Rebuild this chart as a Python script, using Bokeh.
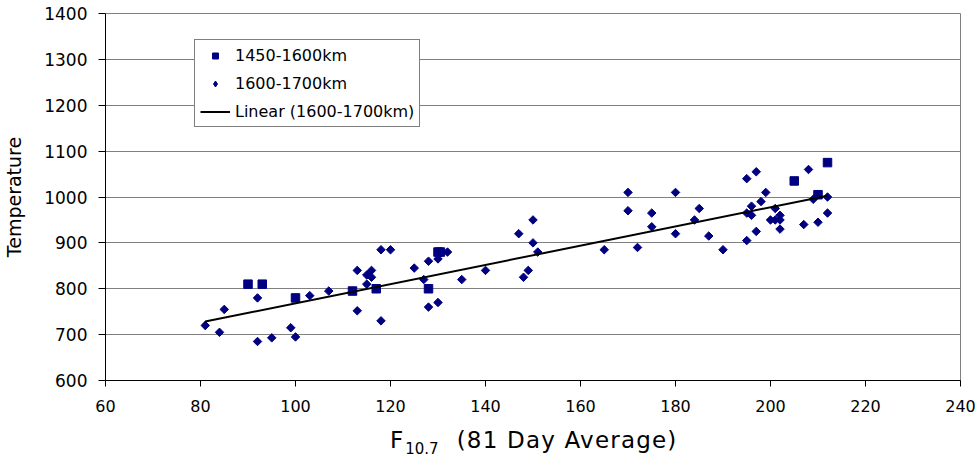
import numpy as np
from bokeh.plotting import figure
from bokeh.layouts import column
from bokeh.models import Range1d, FixedTicker, Legend, LegendItem, Div
from bokeh.embed import file_html
from bokeh.resources import INLINE

# 1450-1600km (squares)
sq_x = [90, 93, 100, 112, 117, 128, 130, 130.5, 205, 210, 212]
sq_y = [810, 810, 780, 795, 800, 800, 880, 880, 1035, 1005, 1075]

# 1600-1700km (diamonds)
di_x = [81, 84, 85, 92, 92, 95, 99, 100, 103, 107, 113, 113, 115, 115, 116,
        116, 118, 118, 120, 125, 127, 128, 128, 130, 130, 132, 135, 140, 147, 148,
        149, 150, 150, 151, 165, 170, 170, 172, 175, 175, 180, 180, 184, 185, 187,
        190, 195, 195, 195, 196, 196, 197, 197, 198, 199, 200, 201, 201, 202, 202,
        202, 207, 208, 209, 210, 212, 212]
di_y = [720, 705, 755, 780, 685, 693, 715, 695, 785, 795, 840, 752, 830, 810, 840,
        825, 730, 885, 885, 845, 820, 760, 860, 865, 770, 880, 820, 840, 920, 825,
        840, 950, 900, 880, 885, 1010, 970, 890, 965, 935, 1010, 920, 950, 975, 915,
        885, 1040, 965, 905, 980, 960, 1055, 925, 990, 1010, 950, 975, 950, 960, 950,
        930, 940, 1060, 995, 945, 1000, 965]

x_ticks = [60, 80, 100, 120, 140, 160, 180, 200, 220, 240]
y_ticks = [600, 700, 800, 900, 1000, 1100, 1200, 1300, 1400]

labels = ["1450-1600km", "1600-1700km", "Linear (1600-1700km)"]
x_title_parts = ["F", "10.7", "(81 Day Average)"]

FONT = "DejaVu Sans"
NAVY = "#000080"

p = figure(width=979, height=420, output_backend="svg", toolbar_location=None,
           x_range=Range1d(60, 240), y_range=Range1d(600, 1400),
           min_border_left=104, min_border_right=19, min_border_top=13,
           min_border_bottom=40)
p.background_fill_color = "white"
p.border_fill_color = "white"
p.outline_line_color = "#808080"
p.outline_line_width = 1

p.xgrid.grid_line_color = None
p.ygrid.grid_line_color = "#808080"
p.ygrid.grid_line_width = 1

p.xaxis.ticker = FixedTicker(ticks=x_ticks)
p.yaxis.ticker = FixedTicker(ticks=y_ticks)
for ax in (p.xaxis, p.yaxis):
    ax.axis_line_color = "black"
    ax.major_tick_line_color = "black"
    ax.minor_tick_line_color = None
    ax.major_tick_in = 0
    ax.major_label_text_font = FONT
    ax.major_label_text_color = "black"
    ax.axis_label_text_font = FONT
    ax.axis_label_text_font_style = "normal"
    ax.axis_label_text_color = "black"
p.xaxis.major_tick_out = 6
p.yaxis.major_tick_out = 7
p.xaxis.major_label_text_font_size = "16px"
p.yaxis.major_label_text_font_size = "17px"
p.xaxis.major_label_standoff = 13
p.yaxis.major_label_standoff = 11
p.yaxis.axis_label = "Temperature"
p.yaxis.axis_label_text_font_size = "19px"
p.yaxis.axis_label_standoff = 16

# legend stand-in for the diamond marker (legend ignores marker angle);
# drawn under the real marker of the first point so it stays hidden
r_di_leg = p.scatter(di_x[:1], di_y[:1], marker="diamond", size=8,
                     fill_color=NAVY, line_color=NAVY)
r_sq = p.scatter(sq_x, sq_y, marker="square", size=8.5, fill_color=NAVY,
                 line_color=NAVY)
r_di = p.scatter(di_x, di_y, marker="square", angle=np.pi / 4, size=6,
                 fill_color=NAVY, line_color=NAVY)

# linear trend line of the 1600-1700km series
coef = np.polyfit(np.array(di_x, float), np.array(di_y, float), 1)
fx = np.array([min(di_x), max(di_x)], float)
fy = np.polyval(coef, fx)
r_fit = p.line(fx, fy, line_color="black", line_width=2)

legend = Legend(items=[LegendItem(label=labels[0], renderers=[r_sq]),
                       LegendItem(label=labels[1], renderers=[r_di_leg]),
                       LegendItem(label=labels[2], renderers=[r_fit])],
                location=(89, 253))
legend.label_text_font = FONT
legend.label_text_font_size = "16px"
legend.label_text_color = "black"
legend.border_line_color = "black"
legend.border_line_width = 1
legend.background_fill_color = "white"
legend.background_fill_alpha = 1
legend.padding = 5
legend.spacing = 8
legend.margin = 0
legend.glyph_width = 30
legend.glyph_height = 15
legend.label_height = 20
legend.label_standoff = 5
p.add_layout(legend, "center")

# x-axis title with a real subscript, as HTML text below the plot
title_html = (
    '<div style="margin:9px 0 0 390px; padding:0; font-family:\'DejaVu Sans\';'
    ' font-size:23px; line-height:1; color:black; white-space:nowrap;">'
    f'{x_title_parts[0]}'
    '<span style="font-size:15px; position:relative; top:6px; margin-left:2px;">'
    f'{x_title_parts[1]}</span>'
    '<span style="margin-left:18px; letter-spacing:1.2px;">'
    f'{x_title_parts[2]}</span></div>'
)
title_div = Div(text=title_html, width=979, height=41, margin=(0, 0, 0, 0),
                styles={"background-color": "white", "overflow": "visible"})

layout = column(p, title_div, spacing=0)
open("out.html", "w").write(file_html(layout, INLINE))
